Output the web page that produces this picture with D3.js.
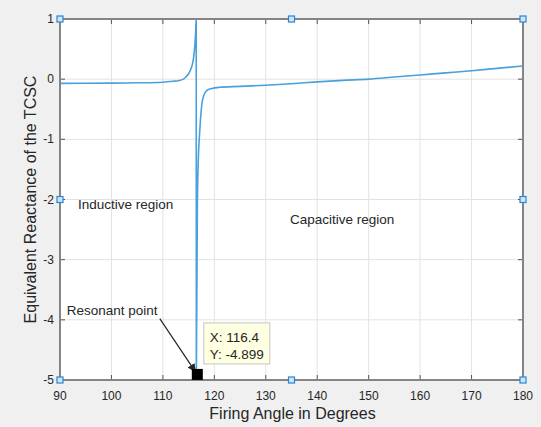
<!DOCTYPE html>
<html lang="en">
<head>
    <meta charset="UTF-8">
    <title>TCSC Equivalent Reactance</title>
    <style>
        body {
            margin: 0;
            padding: 0;
            background-color: #f0f0f0; /* matlab figure grey */
            font-family: 'Liberation Sans', Arial, sans-serif;
        }
        svg { display: block; }
        .grid line { stroke: #e3e3e3; stroke-width: 1; }
        .tick-label { font-size: 12px; fill: #262626; }
    </style>
</head>
<body>
    <svg id="chart" width="541" height="427"></svg>

    <script src="https://d3js.org/d3.v7.min.js"></script>
    <script>
// firing angle (degrees) and equivalent reactance
const angle = [90, 95, 100, 105, 110, 112, 113, 114, 114.5, 115, 115.5, 115.8, 116.0, 116.2, 116.35, 116.48,
               116.5, 116.7, 116.9, 117.1, 117.3, 117.6, 118.0, 118.5, 119.5, 121, 125, 130, 135, 140, 145, 150,
               155, 160, 165, 170, 175, 180];
const reactance = [-0.07, -0.068, -0.065, -0.06, -0.05, -0.035, -0.025, 0.0, 0.04, 0.09, 0.18, 0.27, 0.38, 0.55, 0.75, 1.0,
                   -4.95, -2.1, -1.3, -0.95, -0.68, -0.4, -0.26, -0.19, -0.155, -0.135, -0.12, -0.10, -0.075, -0.045, -0.02, 0.0,
                   0.035, 0.07, 0.105, 0.14, 0.18, 0.22];

const xTicks = [90, 100, 110, 120, 130, 140, 150, 160, 170, 180];
const yTicks = [1, 0, -1, -2, -3, -4, -5];

// data tip on the resonant point
const tipX = 116.4, tipY = -4.899;

const svg = d3.select("#chart");
const plotLeft = 60, plotRight = 523, plotTop = 19, plotBottom = 380;

const x = d3.scaleLinear().domain([90, 180]).range([plotLeft, plotRight]);
const y = d3.scaleLinear().domain([-5, 1]).range([plotBottom, plotTop]);

// axes background
svg.append("rect")
    .attr("x", plotLeft).attr("y", plotTop)
    .attr("width", plotRight - plotLeft).attr("height", plotBottom - plotTop)
    .attr("fill", "#fff");

// grid
const grid = svg.append("g").attr("class", "grid");
grid.selectAll(".gx").data(xTicks).enter().append("line")
    .attr("x1", d => x(d)).attr("x2", d => x(d))
    .attr("y1", plotTop).attr("y2", plotBottom);
grid.selectAll(".gy").data(yTicks).enter().append("line")
    .attr("y1", d => y(d)).attr("y2", d => y(d))
    .attr("x1", plotLeft).attr("x2", plotRight);

// clip for the curve
svg.append("clipPath").attr("id", "plot-clip")
    .append("rect")
    .attr("x", plotLeft).attr("y", plotTop)
    .attr("width", plotRight - plotLeft).attr("height", plotBottom - plotTop);

const points = angle.map((a, i) => [a, reactance[i]]);
const line = d3.line()
    .x(d => x(d[0]))
    .y(d => y(d[1]))
    .curve(d3.curveMonotoneX);

svg.append("path")
    .datum(points)
    .attr("clip-path", "url(#plot-clip)")
    .attr("fill", "none")
    .attr("stroke", "#4aa0dc")
    .attr("stroke-width", 1.6)
    .attr("d", line);

// axis lines and inward ticks on all four sides
const axisColor = "#858585";
const tickLen = 5;
const axes = svg.append("g");
axes.selectAll(".tb").data(xTicks).enter().append("line")
    .attr("x1", d => x(d)).attr("x2", d => x(d))
    .attr("y1", plotBottom).attr("y2", plotBottom - tickLen)
    .attr("stroke", "#555");
axes.selectAll(".tt").data(xTicks).enter().append("line")
    .attr("x1", d => x(d)).attr("x2", d => x(d))
    .attr("y1", plotTop).attr("y2", plotTop + tickLen)
    .attr("stroke", "#555");
axes.selectAll(".tl").data(yTicks).enter().append("line")
    .attr("x1", plotLeft).attr("x2", plotLeft + tickLen)
    .attr("y1", d => y(d)).attr("y2", d => y(d))
    .attr("stroke", "#555");
axes.selectAll(".tr").data(yTicks).enter().append("line")
    .attr("x1", plotRight).attr("x2", plotRight - tickLen)
    .attr("y1", d => y(d)).attr("y2", d => y(d))
    .attr("stroke", "#555");
axes.append("rect")
    .attr("x", plotLeft).attr("y", plotTop)
    .attr("width", plotRight - plotLeft).attr("height", plotBottom - plotTop)
    .attr("fill", "none")
    .attr("stroke", axisColor)
    .attr("stroke-width", 2);

// tick labels
svg.selectAll(".xl").data(xTicks).enter().append("text")
    .attr("class", "tick-label")
    .attr("x", d => x(d)).attr("y", plotBottom + 20)
    .attr("text-anchor", "middle")
    .text(d => d);
svg.selectAll(".yl").data(yTicks).enter().append("text")
    .attr("class", "tick-label")
    .attr("x", plotLeft - 6).attr("y", d => y(d) + 4)
    .attr("text-anchor", "end")
    .text(d => d);

// axis titles
svg.append("text")
    .attr("x", (plotLeft + plotRight) / 2 + 1).attr("y", plotBottom + 39)
    .attr("text-anchor", "middle")
    .attr("font-size", 16).attr("fill", "#262626")
    .text("Firing Angle in Degrees");
svg.append("text")
    .attr("transform", `translate(36, ${(plotTop + plotBottom) / 2}) rotate(-90)`)
    .attr("text-anchor", "middle")
    .attr("font-size", 16).attr("fill", "#262626")
    .text("Equivalent Reactance of the TCSC");

// region labels
const labels = [
    { text: "Inductive region", a: 93.5, v: -2.07 },
    { text: "Capacitive region", a: 134.7, v: -2.32 },
    { text: "Resonant point", a: 91.3, v: -3.84 }
];
svg.selectAll(".note").data(labels).enter().append("text")
    .attr("x", d => x(d.a)).attr("y", d => y(d.v) + 5)
    .attr("font-size", 13.5).attr("fill", "#262626")
    .text(d => d.text);

// arrow to the resonant point
svg.append("defs").append("marker")
    .attr("id", "arrow")
    .attr("viewBox", "0 0 10 10")
    .attr("refX", 9).attr("refY", 5)
    .attr("markerWidth", 7).attr("markerHeight", 7)
    .attr("orient", "auto")
    .append("path")
    .attr("d", "M0,0 L10,5 L0,10 z")
    .attr("fill", "#262626");
svg.append("line")
    .attr("x1", x(109.4)).attr("y1", y(-3.98))
    .attr("x2", x(116.3)).attr("y2", y(-4.86))
    .attr("stroke", "#262626")
    .attr("stroke-width", 1.2)
    .attr("marker-end", "url(#arrow)");

// data tip
svg.append("rect")
    .attr("x", x(tipX) - 4).attr("y", y(tipY) - 5)
    .attr("width", 11).attr("height", 11)
    .attr("fill", "#000");
const tip = svg.append("g").attr("transform", `translate(${x(tipX) + 8}, ${y(tipY) - 51})`);
tip.append("rect")
    .attr("width", 66).attr("height", 41)
    .attr("fill", "#ffffe1")
    .attr("stroke", "#c4c4c4");
tip.append("text").attr("x", 6).attr("y", 19)
    .attr("font-size", 13.5).attr("fill", "#262626")
    .text(`X: ${tipX}`);
tip.append("text").attr("x", 6).attr("y", 36)
    .attr("font-size", 13.5).attr("fill", "#262626")
    .text(`Y: ${tipY}`);

// selection handles of the axes (edit mode)
const midX = (plotLeft + plotRight) / 2, midY = (plotTop + plotBottom) / 2;
const handles = [];
[plotLeft, midX, plotRight].forEach(hx => {
    [plotTop, midY, plotBottom].forEach(hy => {
        if (!(hx === midX && hy === midY)) handles.push([hx, hy]);
    });
});
svg.selectAll(".handle").data(handles).enter().append("rect")
    .attr("x", d => d[0] - 3).attr("y", d => d[1] - 3)
    .attr("width", 6).attr("height", 6)
    .attr("fill", "#cfe6fa")
    .attr("stroke", "#2a86d1")
    .attr("stroke-width", 1.2);
    </script>
</body>
</html>
